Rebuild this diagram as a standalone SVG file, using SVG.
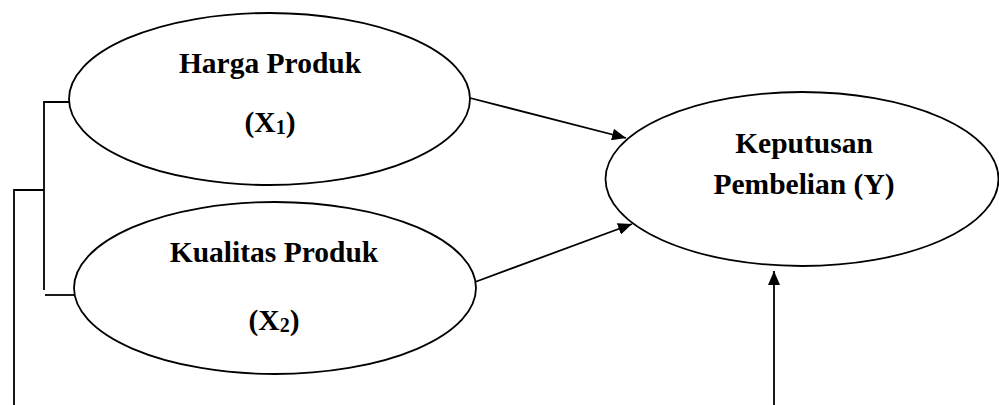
<svg xmlns="http://www.w3.org/2000/svg" width="999" height="405" viewBox="0 0 999 405">
<style>
.node{fill:#fff;stroke:#000;stroke-width:1.8}
.lbl{font-family:"Liberation Serif","Times New Roman",serif;font-weight:bold;font-size:29.5px;fill:#000;text-anchor:middle}
.sub{font-size:20px}
.ln{fill:none;stroke:#000;stroke-width:1.8}
</style>
<defs>
<marker id="ah" markerUnits="userSpaceOnUse" markerWidth="14" markerHeight="12" refX="14" refY="6" orient="auto">
<path d="M0,0 L14,6 L0,12 z" fill="#000"/>
</marker>
</defs>
<g id="connectors">
<path class="ln" d="M69,102 H44 V290"/>
<path class="ln" d="M45,295 H74"/>
<path class="ln" d="M44,190 H14 V405"/>
<line class="ln" x1="470" y1="98" x2="626" y2="138" marker-end="url(#ah)"/>
<line class="ln" x1="475" y1="282" x2="632" y2="224" marker-end="url(#ah)"/>
<line class="ln" x1="774" y1="405" x2="774" y2="271" marker-end="url(#ah)"/>
</g>
<g id="harga">
<ellipse class="node" cx="269.5" cy="99" rx="200.5" ry="86"/>
<text class="lbl" x="270" y="73">Harga Produk</text>
<text class="lbl" x="270" y="132">(X<tspan class="sub" dy="2">1</tspan><tspan dy="-2">)</tspan></text>
</g>
<g id="kualitas">
<ellipse class="node" cx="275" cy="288" rx="201" ry="86"/>
<text class="lbl" x="274" y="262">Kualitas Produk</text>
<text class="lbl" x="274" y="330">(X<tspan class="sub" dy="2">2</tspan><tspan dy="-2">)</tspan></text>
</g>
<g id="keputusan">
<ellipse class="node" cx="802" cy="179" rx="196.5" ry="87"/>
<text class="lbl" x="804" y="153">Keputusan</text>
<text class="lbl" x="804" y="194">Pembelian (Y)</text>
</g>
</svg>
